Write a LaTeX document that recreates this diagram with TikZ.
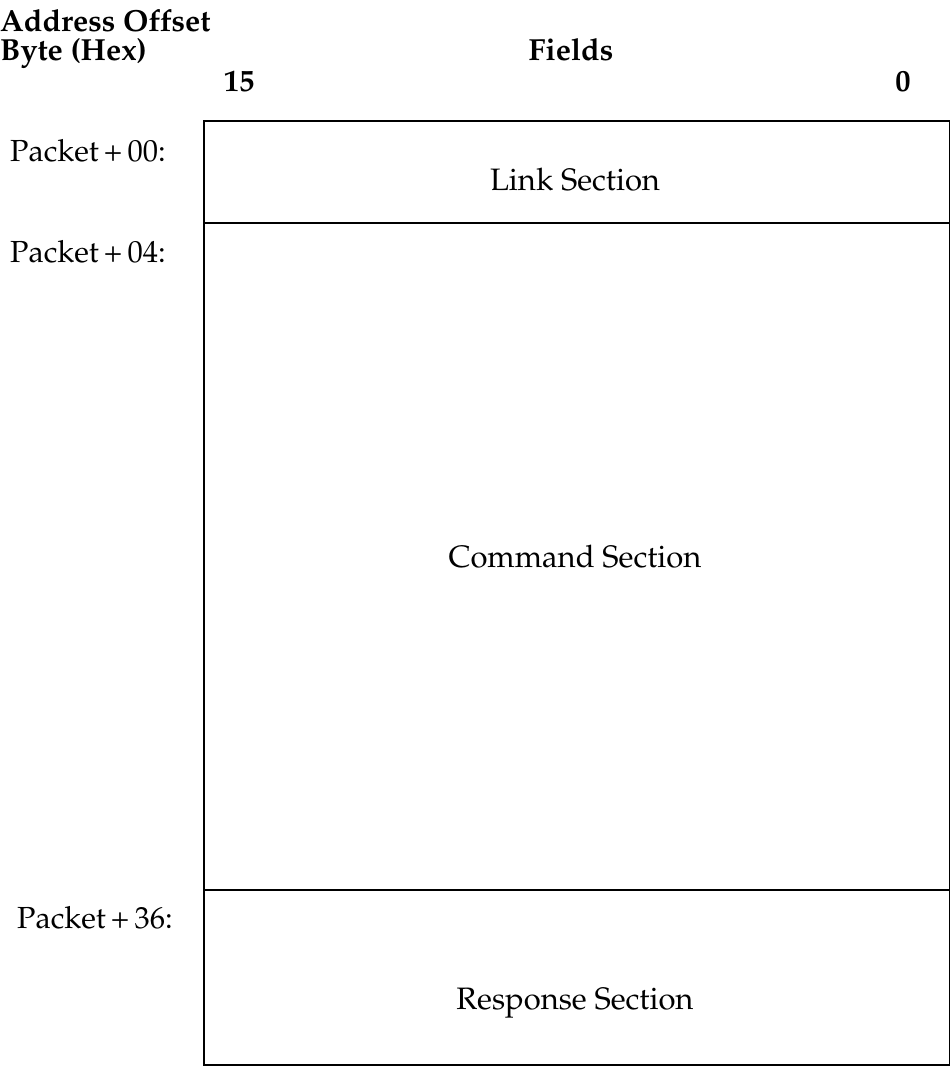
\documentclass[tikz,border=0pt]{standalone}
\usepackage[T1]{fontenc}
\usepackage{mathpazo}
\begin{document}
\begin{tikzpicture}[x=1pt,y=-1pt,
  lbl/.style={font=\fontsize{30.5}{34}\selectfont, inner sep=0pt},
  sec/.style={font=\fontsize{31}{36}\selectfont, inner sep=0pt},
  hdr/.style={font=\fontsize{30.5}{32}\selectfont\bfseries, inner sep=0pt},
  boxline/.style={line width=1.9pt}]
\useasboundingbox (0,0) rectangle (951,1068);
% box
\coordinate (tl) at (204,121);
\coordinate (br) at (949.5,1065);
\coordinate (d1l) at (204,223);
\coordinate (d1r) at (949.5,223);
\coordinate (d2l) at (204,890);
\coordinate (d2r) at (949.5,890);
\draw[boxline] (tl) rectangle (br);
\draw[boxline] (d1l) -- (d1r);
\draw[boxline] (d2l) -- (d2r);
% headers
\node[hdr, anchor=base west] (h1) at (0,31) {Address Offset};
\node[hdr, anchor=base west] (h2) at (0,60) {Byte (Hex)};
\node[hdr, anchor=base] (fields) at (571,60) {Fields};
\node[hdr, anchor=base] (b15) at (239,91) {15};
\node[hdr, anchor=base] (b0) at (903,91) {0};
% offsets
\node[lbl, anchor=base west] (p00) at (10,161) {Packet\,+\,00:};
\node[lbl, anchor=base west] (p04) at (10,262) {Packet\,+\,04:};
\node[lbl, anchor=base west] (p36) at (17,928) {Packet\,+\,36:};
% sections
\node[sec, anchor=base] (link) at (575,190) {Link Section};
\node[sec, anchor=base] (cmd) at (575,567) {Command Section};
\node[sec, anchor=base] (resp) at (575,1009) {Response Section};
\end{tikzpicture}
\end{document}
